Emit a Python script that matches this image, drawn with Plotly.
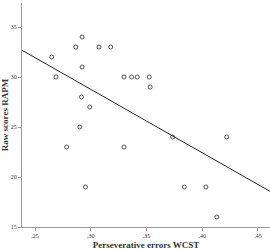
import numpy as np
import plotly.graph_objects as go

# Data
perseverative_errors = [0.2649, 0.2688, 0.2866, 0.2922, 0.3074, 0.3179, 0.2922, 0.2917,
                        0.2991, 0.3298, 0.3366, 0.3417, 0.3524, 0.3533, 0.2902, 0.2783,
                        0.2953, 0.3298, 0.3735, 0.4220, 0.3839, 0.4033, 0.4131]
raw_scores = [32, 30, 33, 34, 33, 33, 31, 28,
              27, 30, 30, 30, 30, 29, 25, 23,
              19, 23, 24, 24, 19, 19, 16]

x_tickvals = [0.25, 0.30, 0.35, 0.40, 0.45]
x_ticktext = [",25", ",30", ",35", ",40", ",45"]
y_tickvals = [15, 20, 25, 30, 35]
y_ticktext = ["15", "20", "25", "30", "35"]

x_range = [0.2383, 0.4608]
y_range = [15, 37.4]

slope, intercept = np.polyfit(perseverative_errors, raw_scores, 1)
line_x = np.array(x_range)
line_y = slope * line_x + intercept

font_family = "Liberation Serif, Times New Roman, serif"

fig = go.Figure()
fig.add_trace(go.Scatter(
    x=perseverative_errors, y=raw_scores, mode="markers",
    marker=dict(symbol="circle-open", size=4, color="#444444", line=dict(width=0.9)),
    showlegend=False, hoverinfo="skip"))
fig.add_trace(go.Scatter(
    x=line_x, y=line_y, mode="lines",
    line=dict(color="#222222", width=1),
    showlegend=False, hoverinfo="skip"))

fig.update_layout(
    width=270, height=250,
    margin=dict(l=22, r=0, t=3, b=23),
    paper_bgcolor="white", plot_bgcolor="white",
    font=dict(family=font_family, color="#333333"),
    xaxis=dict(range=x_range, tickvals=x_tickvals, ticktext=x_ticktext,
               showgrid=False, zeroline=False, showline=True, linecolor="#999999", linewidth=1,
               ticks="outside", ticklen=3, tickcolor="#999999", tickfont=dict(size=6, family=font_family),
               title=dict(text="<b>Perseverative errors WCST</b>", font=dict(size=9, family=font_family), standoff=4)),
    yaxis=dict(range=y_range, tickvals=y_tickvals, ticktext=y_ticktext,
               showgrid=False, zeroline=False, showline=True, linecolor="#999999", linewidth=1,
               ticks="outside", ticklen=3, tickcolor="#999999", tickfont=dict(size=6, family=font_family),
               title=dict(text="<b>Raw scores RAPM</b>", font=dict(size=9, family=font_family), standoff=3)),
)

fig.write_html("out.html")
